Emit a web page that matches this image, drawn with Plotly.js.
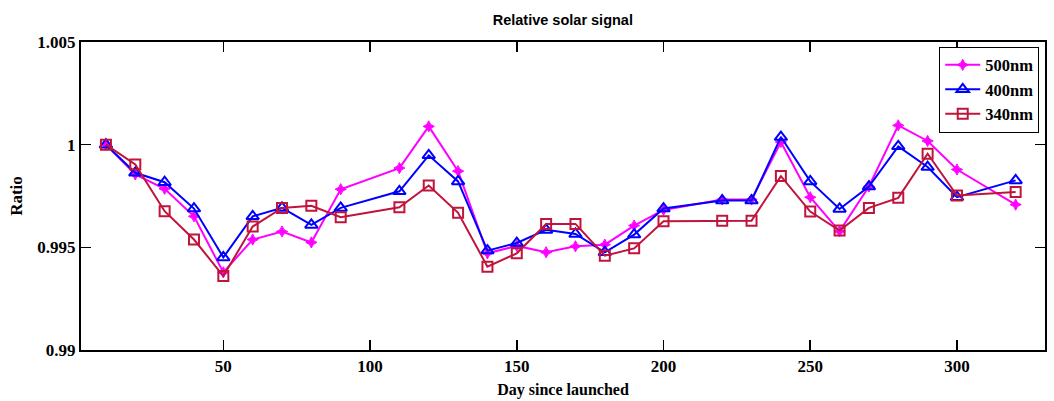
<!DOCTYPE html>
<html>
<head>
<meta charset="utf-8">
<script src="https://cdn.plot.ly/plotly-3.0.1.min.js"></script>
<style>html,body{margin:0;padding:0;background:#fff;}#chart{width:1054px;height:401px;}</style>
</head>
<body>
<div id="chart"></div>
<script>
var days = [10,20,30,40,50,60,70,80,90,110,120,130,140,150,160,170,180,190,200,220,230,240,250,260,270,280,290,300,320];
var nm500 = [1.0000,0.99855,0.99785,0.99651,0.99378,0.99538,0.99577,0.99524,0.99783,0.99886,1.00089,0.99871,0.99471,0.99507,0.99476,0.99505,0.99513,0.99606,0.99682,0.99733,0.99733,1.00013,0.99744,0.99578,0.99796,1.00094,1.00018,0.99879,0.99708];
var nm400 = [1.0000,0.99863,0.99817,0.99689,0.99451,0.99651,0.99692,0.99609,0.99692,0.99773,0.99948,0.99821,0.99484,0.99521,0.99585,0.99565,0.99476,0.99562,0.99689,0.99728,0.99728,1.00037,0.99821,0.99687,0.99796,0.99992,0.99891,0.99744,0.99826];
var nm340 = [1.0000,0.99904,0.99676,0.99538,0.99360,0.99601,0.99692,0.99702,0.99647,0.99695,0.99801,0.99668,0.99406,0.99471,0.99614,0.99614,0.99459,0.99495,0.99627,0.99630,0.99630,0.99847,0.99674,0.99582,0.99692,0.99741,0.99956,0.99752,0.99769];
var seriesNames = ["500nm","400nm","340nm"];
var yTickVals = [0.99,0.995,1,1.005];
var yTickText = ["0.99","0.995","1","1.005"];
var xTickVals = [50,100,150,200,250,300];

var serif = "Liberation Serif, Times New Roman, serif";
var traces = [
  {x: days, y: nm500, name: seriesNames[0], mode: "lines+markers",
   line: {color: "#ff00ff", width: 2},
   marker: {symbol: "star-diamond", size: 8, color: "#ff00ff", line: {color: "#ff00ff", width: 1}}},
  {x: days, y: nm400, name: seriesNames[1], mode: "lines+markers",
   line: {color: "#0000ff", width: 2},
   marker: {symbol: "triangle-up-open", size: 11, color: "#0000ff", line: {color: "#0000ff", width: 2}}},
  {x: days, y: nm340, name: seriesNames[2], mode: "lines+markers",
   line: {color: "#c0143c", width: 2},
   marker: {symbol: "square-open", size: 10, color: "#c0143c", line: {color: "#c0143c", width: 2}}}
];

var layout = {
  width: 1054, height: 401,
  margin: {l: 81, r: 9, t: 42, b: 51},
  paper_bgcolor: "#fff", plot_bgcolor: "#fff",
  title: {text: "<b>Relative solar signal</b>", x: 0.534, xanchor: "center", y: 0.95, yanchor: "middle",
          font: {family: "Liberation Sans, Arial, sans-serif", size: 14.5, color: "#000"}},
  xaxis: {range: [1.5, 330], tickvals: xTickVals, ticks: "inside", ticklen: 10, tickwidth: 1.5, tickcolor: "#000",
          showline: true, linecolor: "#000", linewidth: 2, mirror: "ticks", showgrid: false, zeroline: false,
          tickfont: {family: serif, size: 17, color: "#000", weight: "bold"},
          title: {text: "<b>Day since launched</b>", standoff: 8, font: {family: serif, size: 16, color: "#000"}}},
  yaxis: {range: [0.99, 1.005], tickvals: yTickVals, ticktext: yTickText, ticks: "inside", ticklen: 10, tickwidth: 1.5, tickcolor: "#000",
          showline: true, linecolor: "#000", linewidth: 2, mirror: "ticks", showgrid: false, zeroline: false,
          tickfont: {family: serif, size: 17, color: "#000", weight: "bold"},
          title: {text: "<b>Ratio</b>", standoff: 10, font: {family: serif, size: 17, color: "#000"}}},
  legend: {x: 0.994, xanchor: "right", y: 0.985, yanchor: "top", bgcolor: "#fff", bordercolor: "#000", borderwidth: 1,
           font: {family: serif, size: 16.5, color: "#000", weight: "bold"}, itemwidth: 35},
  showlegend: true
};
Plotly.newPlot("chart", traces, layout, {staticPlot: true, displayModeBar: false});
</script>
</body>
</html>
